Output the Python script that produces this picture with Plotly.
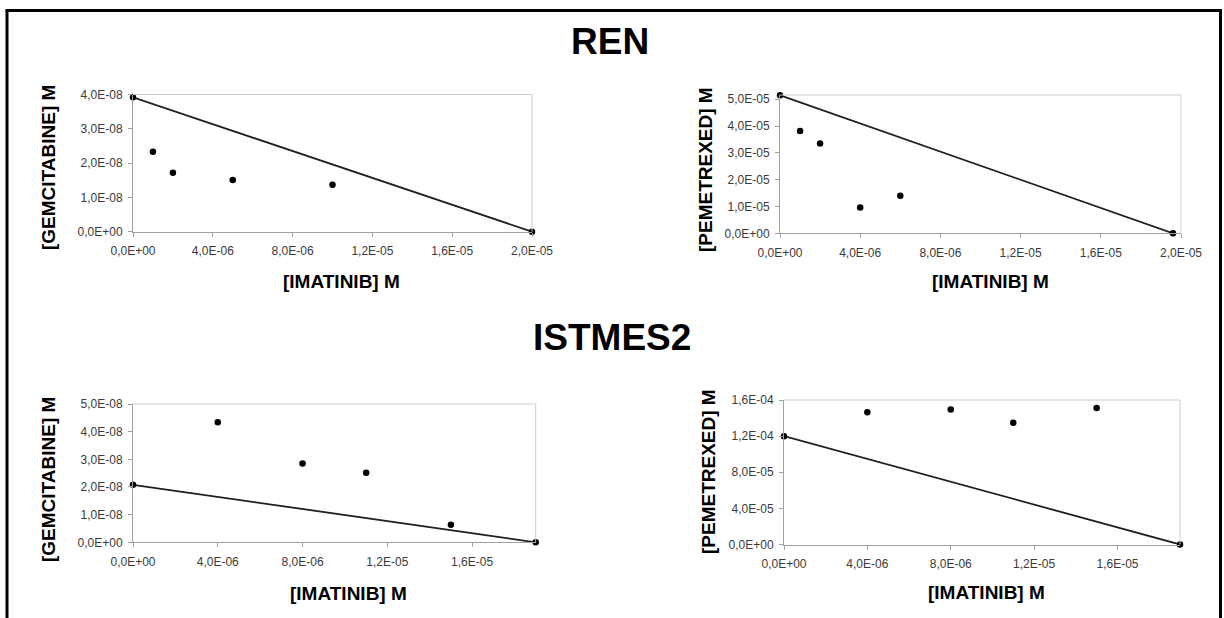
import plotly.graph_objects as go

# ---------------- data ----------------
ren_gem_imatinib = [0.0, 1.0e-6, 2.0e-6, 5.0e-6, 1.0e-5, 2.0e-5]
ren_gem_conc = [3.92e-8, 2.33e-8, 1.72e-8, 1.51e-8, 1.37e-8, 0.0]

ren_pem_imatinib = [0.0, 1.0e-6, 2.0e-6, 4.0e-6, 6.0e-6, 1.96e-5]
ren_pem_conc = [5.15e-5, 3.82e-5, 3.35e-5, 0.96e-5, 1.40e-5, 0.0]

ist_gem_imatinib = [0.0, 4.0e-6, 8.0e-6, 1.1e-5, 1.5e-5, 1.9e-5]
ist_gem_conc = [2.08e-8, 4.34e-8, 2.85e-8, 2.51e-8, 0.63e-8, 0.0]

ist_pem_imatinib = [0.0, 4.0e-6, 8.0e-6, 1.1e-5, 1.5e-5, 1.9e-5]
ist_pem_conc = [1.20e-4, 1.465e-4, 1.494e-4, 1.347e-4, 1.512e-4, 0.0]

x_tickvals_a = [0.0, 4e-6, 8e-6, 1.2e-5, 1.6e-5, 2.0e-5]
x_ticktext_a = ["0,0E+00", "4,0E-06", "8,0E-06", "1,2E-05", "1,6E-05", "2,0E-05"]
x_tickvals_b = [0.0, 4e-6, 8e-6, 1.2e-5, 1.6e-5]
x_ticktext_b = ["0,0E+00", "4,0E-06", "8,0E-06", "1,2E-05", "1,6E-05"]

y_tickvals_gem_ren = [0.0, 1e-8, 2e-8, 3e-8, 4e-8]
y_ticktext_gem_ren = ["0,0E+00", "1,0E-08", "2,0E-08", "3,0E-08", "4,0E-08"]
y_tickvals_pem_ren = [0.0, 1e-5, 2e-5, 3e-5, 4e-5, 5e-5]
y_ticktext_pem_ren = ["0,0E+00", "1,0E-05", "2,0E-05", "3,0E-05", "4,0E-05", "5,0E-05"]
y_tickvals_gem_ist = [0.0, 1e-8, 2e-8, 3e-8, 4e-8, 5e-8]
y_ticktext_gem_ist = ["0,0E+00", "1,0E-08", "2,0E-08", "3,0E-08", "4,0E-08", "5,0E-08"]
y_tickvals_pem_ist = [0.0, 4e-5, 8e-5, 1.2e-4, 1.6e-4]
y_ticktext_pem_ist = ["0,0E+00", "4,0E-05", "8,0E-05", "1,2E-04", "1,6E-04"]

panel_titles = ["REN", "ISTMES2"]
x_title = "[IMATINIB] M"
y_titles = ["[GEMCITABINE] M", "[PEMETREXED] M", "[GEMCITABINE] M", "[PEMETREXED] M"]

# ---------------- layout helpers ----------------
W, H = 1224, 618
def px(x):
    return x / W
def py(y):
    return 1 - y / H

FONT = "Liberation Sans, Arial, sans-serif"

panels = [
    (ren_gem_imatinib, ren_gem_conc, [0, 2.0e-5], [0, 4.0e-8],
     x_tickvals_a, x_ticktext_a, y_tickvals_gem_ren, y_ticktext_gem_ren, (133, 532, 94.5, 231.7)),
    (ren_pem_imatinib, ren_pem_conc, [0, 2.0e-5], [0, 5.16e-5],
     x_tickvals_a, x_ticktext_a, y_tickvals_pem_ren, y_ticktext_pem_ren, (780, 1181, 95, 233.3)),
    (ist_gem_imatinib, ist_gem_conc, [0, 1.9e-5], [0, 5.0e-8],
     x_tickvals_b, x_ticktext_b, y_tickvals_gem_ist, y_ticktext_gem_ist, (133, 535.7, 404, 542.3)),
    (ist_pem_imatinib, ist_pem_conc, [0, 1.9e-5], [0, 1.6e-4],
     x_tickvals_b, x_ticktext_b, y_tickvals_pem_ist, y_ticktext_pem_ist, (784, 1180, 400, 544.5)),
]

fig = go.Figure()
layout = dict(
    width=W, height=H,
    margin=dict(l=0, r=0, t=0, b=0, autoexpand=False),
    paper_bgcolor="white", plot_bgcolor="white",
    showlegend=False,
    font=dict(family=FONT, color="#3a3a3a"),
)
shapes = []
annotations = []

for i, (xs, ys, xr, yr, xtv, xtt, ytv, ytt, box) in enumerate(panels, start=1):
    l, r, t, b = box
    xa = "x" if i == 1 else f"x{i}"
    ya = "y" if i == 1 else f"y{i}"
    # isobole connecting the single-drug points
    fig.add_trace(go.Scatter(
        x=[xs[0], xs[-1]], y=[ys[0], ys[-1]], mode="lines",
        line=dict(color="#1e1e1e", width=1.8),
        xaxis=xa, yaxis=ya, hoverinfo="skip", cliponaxis=False))
    fig.add_trace(go.Scatter(
        x=xs, y=ys, mode="markers",
        marker=dict(color="black", size=6.5),
        xaxis=xa, yaxis=ya, cliponaxis=False))
    axkw = dict(showgrid=False, zeroline=False, showline=True,
                linecolor="#a0a0a0", linewidth=1,
                ticks="outside", ticklen=4, tickcolor="#a0a0a0", tickwidth=1,
                tickfont=dict(family=FONT, size=12, color="#3a3a3a"),
                tickmode="array", fixedrange=True, automargin=False)
    layout["xaxis" if i == 1 else f"xaxis{i}"] = dict(
        axkw, domain=[px(l), px(r)], range=xr, tickvals=xtv, ticktext=xtt,
        anchor=ya, ticklabelstandoff=4)
    layout["yaxis" if i == 1 else f"yaxis{i}"] = dict(
        axkw, domain=[py(b), py(t)], range=yr, tickvals=ytv, ticktext=ytt,
        anchor=xa, ticklabelstandoff=3)
    # light grey top and right frame
    shapes.append(dict(type="line", xref=f"{xa} domain", yref=f"{ya} domain",
                       x0=0, x1=1, y0=1, y1=1, line=dict(color="#cccccc", width=1)))
    shapes.append(dict(type="line", xref=f"{xa} domain", yref=f"{ya} domain",
                       x0=1, x1=1, y0=0, y1=1, line=dict(color="#cccccc", width=1)))

# axis titles
xt_pos = [(341, 281), (990, 281), (348, 593), (986, 592)]
yt_pos = [(49, 167), (705, 169), (49, 479), (708, 472)]
for (x, y) in xt_pos:
    annotations.append(dict(text=x_title, x=px(x), y=py(y), xref="paper", yref="paper",
                            xanchor="center", yanchor="middle", showarrow=False,
                            font=dict(family=FONT, size=19, color="black", weight="bold")))
for (x, y), txt in zip(yt_pos, y_titles):
    annotations.append(dict(text=txt, x=px(x), y=py(y), xref="paper", yref="paper",
                            xanchor="center", yanchor="middle", showarrow=False, textangle=-90,
                            font=dict(family=FONT, size=19, color="black", weight="bold")))
# panel titles
for txt, (x, y) in zip(panel_titles, [(610, 42), (612, 337)]):
    annotations.append(dict(text=txt, x=px(x), y=py(y), xref="paper", yref="paper",
                            xanchor="center", yanchor="middle", showarrow=False,
                            font=dict(family=FONT, size=37, color="black", weight="bold")))

# outer black border (open at the bottom)
border = dict(color="black", width=3)
shapes.append(dict(type="line", xref="paper", yref="paper", x0=px(7), x1=px(7),
                   y0=py(10.5), y1=py(640), line=border))
shapes.append(dict(type="line", xref="paper", yref="paper", x0=px(5.5), x1=px(1222),
                   y0=py(10.5), y1=py(10.5), line=border))
shapes.append(dict(type="line", xref="paper", yref="paper", x0=px(1220.5), x1=px(1220.5),
                   y0=py(10.5), y1=py(640), line=border))

layout["shapes"] = shapes
layout["annotations"] = annotations
fig.update_layout(**layout)
fig.write_html(
    "out.html",
    config={"displayModeBar": False, "staticPlot": True},
    post_script="document.body.style.margin='0';document.body.style.padding='0';"
                "document.body.style.overflow='hidden';"
                "document.documentElement.style.overflow='hidden';",
)
